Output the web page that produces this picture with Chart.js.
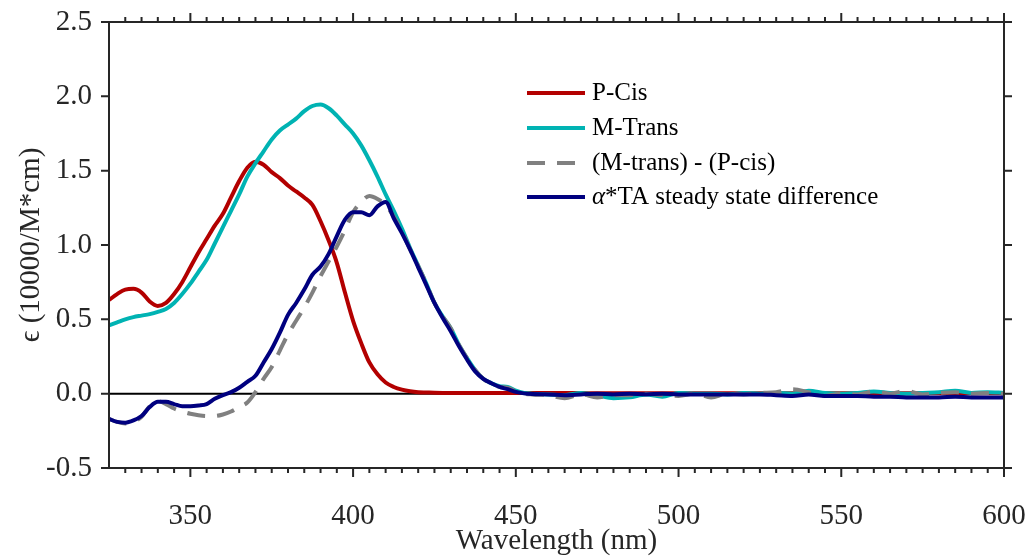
<!DOCTYPE html>
<html>
<head>
<meta charset="utf-8">
<script src="https://cdn.jsdelivr.net/npm/chart.js@4"></script>
<style>
html, body { margin: 0; padding: 0; background: #fff; }
</style>
</head>
<body>
<canvas id="myChart" width="1027" height="557"></canvas>
<script>
// wavelength grid (nm)
let wavelengths = [
    325, 327.5, 330, 332.5, 335, 337.5, 340, 342.5, 345, 347.5,
    350, 352.5, 355, 357.5, 360, 362.5, 365, 367.5, 370, 372.5,
    375, 377.5, 380, 382.5, 385, 387.5, 390, 392.5, 395, 397.5,
    400, 402.5, 405, 407.5, 410, 412.5, 415, 417.5, 420, 422.5,
    425, 427.5, 430, 432.5, 435, 437.5, 440, 442.5, 445, 447.5,
    450, 452.5, 455,
    460, 465, 470, 475, 480, 485, 490, 495, 500, 505,
    510, 515, 520, 525, 530, 535, 540, 545, 550, 555,
    560, 565, 570, 575, 580, 585, 590, 595, 600
];

let pCis = [
    0.63, 0.67, 0.70, 0.705, 0.68, 0.62, 0.59, 0.61, 0.67, 0.75,
    0.85, 0.95, 1.04, 1.13, 1.21, 1.32, 1.43, 1.52, 1.56, 1.54,
    1.49, 1.45, 1.40, 1.36, 1.32, 1.27, 1.16, 1.03, 0.88, 0.68,
    0.49, 0.34, 0.21, 0.13, 0.075, 0.045, 0.027, 0.016, 0.010, 0.008,
    0.006, 0.005, 0.005, 0.004, 0.004, 0.004, 0.004, 0.004, 0.004, 0.004,
    0.004, 0.004, 0.004,
    0.004, 0.004, 0.004, 0.003, 0.003, 0.003, 0.003, 0.003, 0.003, 0.003,
    0.003, 0.003, 0.003, 0.003, 0.003, 0.003, 0.003, 0.003, 0.003, 0.003,
    0.003, 0.003, 0.003, 0.003, 0.003, 0.003, 0.003, 0.003, 0.003
];

let mTrans = [
    0.46, 0.48, 0.50, 0.515, 0.525, 0.535, 0.55, 0.57, 0.61, 0.67,
    0.74, 0.82, 0.90, 1.01, 1.12, 1.23, 1.34, 1.46, 1.55, 1.63,
    1.71, 1.77, 1.81, 1.85, 1.90, 1.935, 1.945, 1.92, 1.87, 1.81,
    1.75, 1.67, 1.57, 1.46, 1.34, 1.23, 1.11, 0.98, 0.86, 0.74,
    0.61, 0.52, 0.44, 0.33, 0.24, 0.16, 0.10, 0.07, 0.05, 0.045,
    0.02, 0.005, 0.0,
    -0.005, -0.01, 0.005, -0.01, -0.03, -0.025, -0.005, -0.02, 0.005, 0.0,
    0.0, -0.005, 0.005, 0.0, 0.005, 0.0, 0.02, 0.005, 0.0, 0.005,
    0.015, 0.005, 0.0, 0.005, 0.01, 0.02, 0.005, 0.01, 0.005
];

let diffMP = [
    -0.17, -0.19, -0.20, -0.19, -0.155, -0.085, -0.05, -0.07, -0.10, -0.12,
    -0.135, -0.145, -0.15, -0.15, -0.14, -0.12, -0.09, -0.06, 0.01, 0.10,
    0.18, 0.29, 0.40, 0.49, 0.58, 0.68, 0.79, 0.89, 0.99, 1.10,
    1.22, 1.29, 1.33, 1.31, 1.27, 1.19, 1.09, 0.97, 0.86, 0.74,
    0.61, 0.52, 0.44, 0.33, 0.24, 0.16, 0.10, 0.065, 0.045, 0.04,
    0.015, 0.0, -0.005,
    -0.01, -0.03, -0.005, -0.025, -0.01, -0.01, 0.0, -0.01, -0.015, 0.0,
    -0.025, 0.0, -0.005, 0.005, 0.01, 0.03, 0.01, -0.015, 0.0, -0.005,
    0.015, 0.0, 0.02, -0.005, 0.005, 0.01, 0.0, 0.005, 0.0
];

let taSteady = [
    -0.17, -0.19, -0.195, -0.18, -0.15, -0.09, -0.055, -0.055, -0.07, -0.085,
    -0.085, -0.08, -0.07, -0.035, -0.01, 0.01, 0.04, 0.08, 0.12, 0.21,
    0.30, 0.41, 0.53, 0.61, 0.70, 0.80, 0.855, 0.94, 1.06, 1.17,
    1.22, 1.22, 1.20, 1.26, 1.29, 1.18, 1.08, 0.97, 0.85, 0.73,
    0.61, 0.51, 0.42, 0.32, 0.23, 0.15, 0.10, 0.07, 0.045, 0.03,
    0.012, 0.002, -0.003,
    -0.005, -0.01, -0.005, 0.0, -0.005, 0.0, -0.005, 0.0, -0.005, -0.005,
    -0.005, -0.005, -0.005, -0.005, -0.01, -0.015, -0.005, -0.015, -0.015, -0.015,
    -0.02, -0.02, -0.025, -0.025, -0.025, -0.02, -0.025, -0.025, -0.025
];

let xTicks = [350, 400, 450, 500, 550, 600];
let yTicks = [-0.5, 0, 0.5, 1, 1.5, 2, 2.5];

let serif = "'Liberation Serif', 'Times New Roman', serif";
let axisColor = "#262626";

function pts(values) {
    return wavelengths.map((w, i) => ({ x: w, y: values[i] }));
}

// ejes tipo caja, ticks hacia fuera, titulos y leyenda
const cajaPlugin = {
    id: "caja",
    beforeDatasetsDraw(chart) {
        let ctx = chart.ctx;
        let a = chart.chartArea;
        let y0 = chart.scales.y.getPixelForValue(0);
        ctx.save();
        ctx.strokeStyle = "#000";
        ctx.lineWidth = 2;
        ctx.beginPath();
        ctx.moveTo(a.left, y0);
        ctx.lineTo(a.right, y0);
        ctx.stroke();
        ctx.restore();
    },
    afterDraw(chart) {
        let ctx = chart.ctx;
        let a = chart.chartArea;
        let xs = chart.scales.x;
        let ys = chart.scales.y;
        ctx.save();
        ctx.strokeStyle = axisColor;
        ctx.lineWidth = 2;
        ctx.strokeRect(a.left, a.top, a.right - a.left, a.bottom - a.top);

        ctx.beginPath();
        for (let w = 330; w <= 600; w += 5) {
            let px = xs.getPixelForValue(w);
            let len = (w % 50 === 0) ? 9 : 5;
            ctx.moveTo(px, a.bottom);
            ctx.lineTo(px, a.bottom + len);
            ctx.moveTo(px, a.top);
            ctx.lineTo(px, a.top - len);
        }
        yTicks.forEach(v => {
            let py = ys.getPixelForValue(v);
            ctx.moveTo(a.left, py);
            ctx.lineTo(a.left - 8, py);
            ctx.moveTo(a.right, py);
            ctx.lineTo(a.right + 8, py);
        });
        ctx.stroke();

        // titulos de ejes
        ctx.fillStyle = axisColor;
        ctx.font = "29px " + serif;
        ctx.textAlign = "center";
        ctx.textBaseline = "middle";
        ctx.fillText("Wavelength (nm)", (a.left + a.right) / 2, 541);
        ctx.save();
        ctx.translate(31, (a.top + a.bottom) / 2);
        ctx.rotate(-Math.PI / 2);
        ctx.fillText("\u03f5 (10000/M*cm)", 0, 0);
        ctx.restore();

        // leyenda
        let rowY = [93, 128, 163, 197];
        chart.data.datasets.forEach((ds, i) => {
            let y = rowY[i];
            ctx.strokeStyle = ds.borderColor;
            ctx.lineWidth = 4;
            ctx.setLineDash(ds.borderDash || []);
            ctx.beginPath();
            ctx.moveTo(527, y);
            ctx.lineTo(585, y);
            ctx.stroke();
            ctx.setLineDash([]);
            ctx.fillStyle = "#000";
            ctx.textAlign = "left";
            let x = 592;
            let label = ds.label;
            if (label.startsWith("\u03b1")) {
                ctx.font = "italic 25px " + serif;
                ctx.fillText("\u03b1", x, y);
                x += ctx.measureText("\u03b1").width;
                label = label.slice(1);
            }
            ctx.font = "25px " + serif;
            ctx.fillText(label, x, y);
        });
        ctx.restore();
    }
};

let canvas = document.getElementById("myChart");
let ctx = canvas.getContext("2d");

let myChart = new Chart(ctx, {
    type: "line",
    data: {
        datasets: [{
            label: "P-Cis",
            data: pts(pCis),
            borderColor: "#b30000",
            order: 4
        }, {
            label: "M-Trans",
            data: pts(mTrans),
            borderColor: "#00b3b3",
            order: 3
        }, {
            label: "(M-trans) - (P-cis)",
            data: pts(diffMP),
            borderColor: "#808080",
            borderDash: [18, 12],
            order: 2
        }, {
            label: "\u03b1*TA steady state difference",
            data: pts(taSteady),
            borderColor: "#00007f",
            order: 1
        }]
    },
    options: {
        responsive: false,
        animation: false,
        devicePixelRatio: 1,
        layout: { padding: { top: 22, right: 23, left: 0, bottom: 0 } },
        elements: {
            point: { radius: 0 },
            line: { borderWidth: 4, cubicInterpolationMode: "monotone", fill: false, borderJoinStyle: "round" }
        },
        plugins: {
            legend: { display: false },
            tooltip: { enabled: false }
        },
        scales: {
            x: {
                type: "linear",
                min: 325,
                max: 600,
                grid: { display: false, drawTicks: false },
                border: { display: false },
                afterBuildTicks: scale => { scale.ticks = xTicks.map(v => ({ value: v })); },
                afterFit: scale => {
                    scale.height = 89;
                    scale.paddingLeft = 0;
                    scale.paddingRight = 0;
                },
                ticks: {
                    padding: 31,
                    color: axisColor,
                    font: { family: serif, size: 29 },
                    maxRotation: 0,
                    callback: v => v
                }
            },
            y: {
                min: -0.5,
                max: 2.5,
                grid: { display: false, drawTicks: false },
                border: { display: false },
                afterBuildTicks: scale => { scale.ticks = yTicks.map(v => ({ value: v })); },
                afterFit: scale => {
                    scale.width = 109;
                    scale.paddingTop = 0;
                    scale.paddingBottom = 0;
                },
                ticks: {
                    padding: 17,
                    color: axisColor,
                    font: { family: serif, size: 29 },
                    callback: v => v.toFixed(1)
                }
            }
        }
    },
    plugins: [cajaPlugin]
});
</script>
</body>
</html>
